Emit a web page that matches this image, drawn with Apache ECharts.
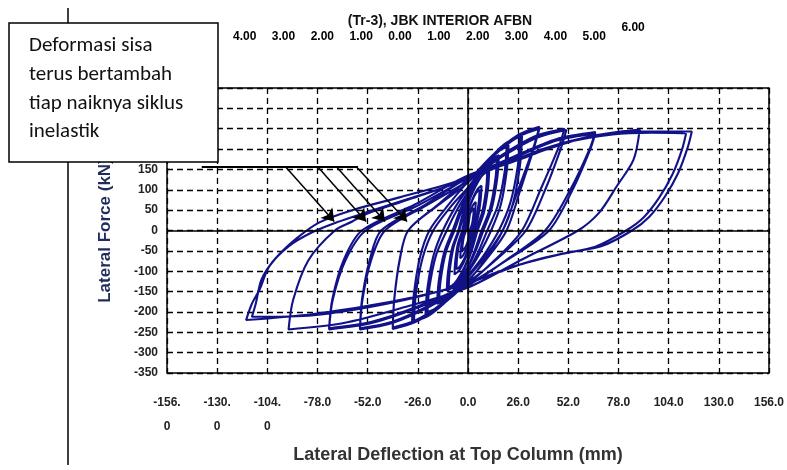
<!DOCTYPE html>
<html>
<head>
<meta charset="utf-8">
<script src="https://cdn.jsdelivr.net/npm/echarts@6/dist/echarts.min.js"></script>
<style>
html,body{margin:0;padding:0;background:#fff;}
#chart{width:787px;height:470px;}
</style>
</head>
<body>
<div id="chart"></div>
<script>
// ---- DATA ----
const chartTitle = '(Tr-3), JBK INTERIOR AFBN';
const xAxisTitle = 'Lateral Deflection at Top Column (mm)';
const yAxisTitle = 'Lateral Force (kN)';
const noteLines = ['Deformasi sisa', 'terus bertambah', 'tiap naiknya siklus', 'inelastik'];

const bottomTickLabels = ['-156.\n0', '-130.\n0', '-104.\n0', '-78.0', '-52.0', '-26.0', '0.0', '26.0', '52.0', '78.0', '104.0', '130.0', '156.0'];
const topTickValues = [-4, -3, -2, -1, 0, 1, 2, 3, 4, 5, 6];
const topTickLabels = ['4.00', '3.00', '2.00', '1.00', '0.00', '1.00', '2.00', '3.00', '4.00', '5.00', '6.00'];

// hysteresis cycles [deflection mm, force kN]
const cycA1 = [[0,0],[1,40],[2,50],[3,55],[2.8,38],[2.1,16],[1,0],[0.5,-14],[0,-25],[-1,-38],[-2.1,-46],[-3,-50],[-2.8,-35],[-2.1,-15],[-1,0]];
const cycA2 = [[-0.5,18],[0,32],[1.4,50],[2.8,64],[4,70],[3.75,49],[2.9,21],[1.5,0],[0.75,-19],[0,-34],[-1.4,-51],[-2.8,-63],[-4,-68],[-3.75,-48],[-2.9,-20],[-1.5,0]];
const cycB1 = [[-0.75,25],[0,45],[2.1,72],[4.2,92],[6,100],[5.6,70],[4.2,30],[2,0],[1,-27],[0,-48],[-2.1,-71],[-4.2,-88],[-6,-95],[-5.65,-67],[-4.4,-29],[-2.5,0]];
const cycB2 = [[-1.25,28],[0,50],[2.5,79],[4.9,101],[7,110],[6.6,77],[5.2,33],[3,0],[1.5,-30],[0,-54],[-2.5,-81],[-4.9,-100],[-7,-108],[-6.6,-76],[-5.2,-32],[-3,0]];
const cycC1 = [[-1.5,36],[0,65],[3.5,104],[7,133],[10,145],[9.4,102],[7.3,44],[4,0],[2,-39],[0,-70],[-3.5,-105],[-7,-130],[-10,-140],[-9.45,-98],[-7.5,-42],[-4.5,0]];
const cycC2 = [[-2.25,38],[0,68],[3.9,108],[7.7,138],[11,150],[10.4,105],[8.3,45],[5,0],[2.5,-41],[0,-74],[-3.9,-111],[-7.7,-138],[-11,-148],[-10.4,-104],[-8.3,-44],[-5,0]];
const cycD1 = [[-2.5,45],[0,81],[5.3,130],[10.5,166],[15,180],[14.2,126],[11.4,54],[7,0],[3.5,-49],[0,-88],[-5.3,-131],[-10.5,-163],[-15,-175],[-14.2,-123],[-11.4,-53],[-7,0]];
const cycD2 = [[-3.5,46],[0,83],[5.6,133],[11.2,170],[16,185],[15.2,130],[12.4,56],[8,0],[4,-50],[0,-90],[-5.6,-135],[-11.2,-167],[-16,-180],[-15.2,-126],[-12.4,-54],[-8,0]];
const cycE1 = [[-4,51],[0,92],[7,148],[14,189],[20,205],[19,144],[15.5,62],[10,0],[5,-56],[0,-100],[-7.4,-150],[-14.7,-186],[-21,-200],[-20,-140],[-16.5,-60],[-11,0]];
const cycE2 = [[-5.5,52],[0,95],[7.4,151],[14.7,193],[21,210],[20.1,147],[17,63],[12,0],[6,-57],[0,-103],[-7.7,-154],[-15.4,-191],[-22,-205],[-21.1,-144],[-17.9,-62],[-13,0]];
const cycF1 = [[-6.5,58],[0,104],[9.5,166],[18.9,212],[27,230],[25.9,161],[22,69],[16,0],[8,-62],[0,-111],[-9.8,-167],[-19.6,-206],[-28,-222],[-27,-155],[-23.5,-67],[-18,0]];
const cycF2 = [[-9,58],[0,106],[9.8,167],[19.6,213],[28,232],[27,162],[23.5,70],[18,0],[9,-63],[0,-115],[-10.2,-169],[-20.3,-209],[-29,-225],[-28.1,-158],[-25,-68],[-20,0]];
const cycG1 = [[-10,64],[0,120],[13,186],[26,235],[37,255],[34,205],[26,100],[18,0],[9,-70],[0,-125],[-13.7,-184],[-27.3,-225],[-39,-242],[-38.2,-169],[-35.4,-73],[-31,0]];
const cycG2 = [[-15.5,62],[0,118],[13,182],[26,230],[37,250],[34,200],[27,98],[20,0],[10,-68],[0,-123],[-13.7,-180],[-27.3,-221],[-39,-238],[-38.2,-167],[-35.4,-71],[-31,0]];
const cycH1 = [[-15.5,64],[0,125],[17.5,185],[35,232],[50,250],[47,205],[38,105],[28,0],[14,-72],[0,-130],[-19.6,-186],[-39.2,-227],[-56,-243],[-54.7,-170],[-50.2,-73],[-43,0]];
const cycH2 = [[-21.5,62],[0,122],[17.9,182],[35.7,228],[51,247],[48,200],[40,100],[30,0],[15,-70],[0,-127],[-19.6,-183],[-39.2,-224],[-56,-240],[-54.9,-168],[-50.9,-72],[-45,0]];
const cycI1 = [[-22.5,62],[0,130],[23,180],[46,225],[66,242],[63,200],[53,100],[40,0],[20,-72],[0,-135],[-25.2,-188],[-50.4,-228],[-72,-243],[-70.1,-170],[-63.5,-73],[-53,0]];
const cycI2 = [[-26.5,60],[0,128],[23,176],[46,221],[66,238],[63,195],[54,98],[42,0],[21,-70],[0,-132],[-25.2,-185],[-50.4,-225],[-72,-240],[-70.3,-168],[-64.4,-72],[-55,0]];
const cycJ1 = [[-27.5,64],[0,135],[31,184],[62,230],[89,248],[85.8,174],[77,108],[68,44],[57,0],[28.5,-70],[0,-140],[-32.6,-188],[-65,-228],[-93,-243],[-90.6,-170],[-82.7,-73],[-69,0]];
const cycK1 = [[-60,22],[-53,40],[-32,74],[-11,108],[16,157],[40,202],[65,232],[90,243],[116,243],[114,206],[109,142],[102,83],[94,34],[85,0],[69,-39],[52,-54],[30,-79],[-5,-137],[-40,-175],[-80,-205],[-115,-220],[-112,-180],[-108,-145],[-103,-88],[-93,-39],[-81,-5],[-68,20],[-53,44],[-32,76],[-11,108],[16,157],[30,180]];
const cycK2 = [[50,215],[75,236],[95,240],[113,238],[111,200],[106,138],[99,80],[91,32],[82,0],[66,-40],[48,-58],[26,-85],[-8,-140],[-42,-180],[-80,-208],[-112,-212],[-110,-180],[-107,-120],[-100,-70],[-89,-20],[-77,20],[-60,50],[-35,82],[-12,112],[10,145]];

// annotation arrows (data coordinates)
const leaderLine = [[-138,157],[-57,157]];
const arrowStarts = [[-94.7,157],[-78,157],[-68.3,157],[-58,157]];
const arrowEnds = [[-69.3,22],[-52.8,22],[-43,22],[-31.6,22]];

// ---- CHART ----
const hysteresis = [].concat(cycA1, cycA2, cycB1, cycB2, cycC1, cycC2, cycD1, cycD2,
  cycE1, cycE2, cycF1, cycF2, cycG1, cycG2, cycH1, cycH2, cycI1, cycI2, cycJ1, cycK1, cycK2);

const chart = echarts.init(document.getElementById('chart'), null, {renderer: 'canvas'});
const dashed = {color: '#000', width: 1.3, type: [6, 4]};
const sans = 'Liberation Sans, Arial, sans-serif';
const tickFont = {fontFamily: sans, fontSize: 12, fontWeight: 'bold', color: '#222'};

chart.setOption({
  animation: false,
  backgroundColor: '#fff',
  title: {
    text: chartTitle,
    left: 435, top: 9, textAlign: 'center',
    textStyle: {fontFamily: sans, fontSize: 14, fontWeight: 'bold', color: '#111'}
  },
  grid: {left: 167, right: 18, top: 88, bottom: 97, show: true, borderColor: '#000', borderWidth: 1.5, containLabel: false},
  xAxis: [{
    type: 'value', min: -156, max: 156, interval: 26,
    axisLine: {show: false}, axisTick: {show: false},
    splitLine: {show: true, lineStyle: dashed},
    axisLabel: Object.assign({margin: 18, lineHeight: 24, formatter: v => bottomTickLabels[Math.round((v + 156) / 26)]}, tickFont),
    name: xAxisTitle, nameLocation: 'middle', nameGap: 73,
    nameTextStyle: {fontFamily: sans, fontSize: 18, fontWeight: 'bold', color: '#333', padding: [0, 20, 0, 0]}
  }, {
    type: 'value', position: 'top', min: -6, max: 9.5, interval: 1, offset: 37,
    axisLine: {show: false}, axisTick: {show: false}, splitLine: {show: false},
    axisLabel: {
      fontFamily: sans, fontSize: 12, fontWeight: 'bold', color: '#000',
      formatter: v => {
        const i = topTickValues.indexOf(Math.round(v));
        if (i < 0) return '';
        return i === topTickValues.length - 1 ? '{up|' + topTickLabels[i] + '}' : topTickLabels[i];
      },
      rich: {up: {fontFamily: sans, fontSize: 12, fontWeight: 'bold', color: '#000', padding: [0, 0, 9, 0]}}
    }
  }],
  yAxis: {
    type: 'value', min: -350, max: 350, interval: 50,
    axisLine: {show: false}, axisTick: {show: false},
    splitLine: {show: true, lineStyle: dashed},
    axisLabel: Object.assign({margin: 9}, tickFont),
    name: yAxisTitle, nameLocation: 'middle', nameGap: 53,
    nameTextStyle: {fontFamily: sans, fontSize: 17, fontWeight: 'bold', color: '#1f2d5c'}
  },
  series: [{
    type: 'line', data: [], z: 1, silent: true,
    markLine: {silent: true, symbol: 'none', label: {show: false},
      lineStyle: {color: '#000', width: 1.5, type: 'solid'},
      data: [{xAxis: 0}, {yAxis: 0}]}
  }, {
    type: 'line', data: hysteresis, z: 3, showSymbol: false, smooth: 0.3,
    lineStyle: {color: '#111188', width: 2.1}
  }, {
    type: 'lines', coordinateSystem: 'cartesian2d', z: 5, symbol: 'none',
    lineStyle: {color: '#000', width: 2, opacity: 1},
    data: [{coords: leaderLine}]
  }, {
    type: 'lines', coordinateSystem: 'cartesian2d', z: 5, symbol: ['none', 'arrow'], symbolSize: 12,
    lineStyle: {color: '#000', width: 1.5, opacity: 1},
    data: arrowStarts.map((s, i) => ({coords: [s, arrowEnds[i]]}))
  }],
  graphic: [{
    type: 'line', z: 50, shape: {x1: 68, y1: 8, x2: 68, y2: 465}, style: {stroke: '#000', lineWidth: 1.5}
  }, {
    type: 'rect', z: 100, shape: {x: 9, y: 23, width: 209, height: 139},
    style: {fill: '#fff', stroke: '#000', lineWidth: 1.5}
  }, {
    type: 'text', z: 101, x: 29, y: 31.6,
    style: {text: noteLines.join('\n'), fontFamily: 'Carlito, Lato, sans-serif', fontSize: 21, lineHeight: 28.7, fill: '#111'}
  }]
});
</script>
</body>
</html>
